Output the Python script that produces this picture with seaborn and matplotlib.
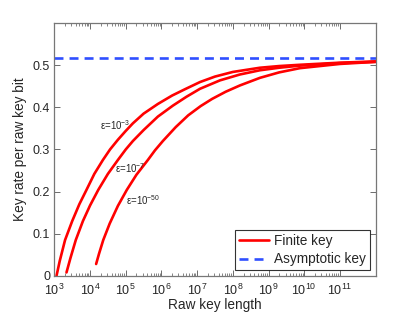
import numpy as np
import pandas as pd
import matplotlib
matplotlib.use("Agg")
import matplotlib.pyplot as plt
import seaborn as sns
from matplotlib.ticker import NullFormatter

# raw key length (log10) and key rate
log_n_eps3 = [3.06, 3.15, 3.30, 3.50, 3.70, 3.90, 4.12, 4.36, 4.56, 4.78, 5.00, 5.20,
              5.50, 5.90, 6.30, 6.66, 7.08, 7.50, 8.00, 8.76, 9.30, 9.88, 11.0, 12.0]
rate_eps3 = [0.000, 0.035, 0.085, 0.130, 0.170, 0.204, 0.242, 0.275, 0.300, 0.323, 0.344, 0.362,
             0.385, 0.408, 0.428, 0.443, 0.460, 0.473, 0.484, 0.494, 0.498, 0.501, 0.506, 0.509]

log_n_eps7 = [3.34, 3.45, 3.60, 3.80, 4.00, 4.23, 4.50, 4.78, 5.00, 5.20, 5.50,
              5.90, 6.32, 6.70, 7.08, 7.64, 8.20, 8.76, 9.30, 9.88, 11.0, 12.0]
rate_eps7 = [0.008, 0.042, 0.085, 0.130, 0.167, 0.204, 0.242, 0.275, 0.300, 0.320, 0.346,
             0.378, 0.404, 0.425, 0.444, 0.464, 0.478, 0.488, 0.494, 0.499, 0.505, 0.508]

log_n_eps50 = [4.17, 4.25, 4.37, 4.55, 4.78, 5.03, 5.30, 5.62, 5.82, 6.04, 6.40,
               6.75, 7.10, 7.42, 7.80, 8.20, 8.76, 9.30, 9.88, 11.0, 12.0]
rate_eps50 = [0.028, 0.052, 0.085, 0.124, 0.166, 0.204, 0.240, 0.275, 0.298, 0.320, 0.353,
              0.381, 0.403, 0.420, 0.437, 0.452, 0.470, 0.483, 0.493, 0.503, 0.508]

asymptotic_rate = 0.516
x_range = [1e3, 1e12]
eps_labels = [r"ε=10$^{-3}$", r"ε=10$^{-7}$", r"ε=10$^{-50}$"]
eps_label_pos = [(10 ** 4.28, 0.357), (10 ** 4.70, 0.256), (10 ** 5.00, 0.180)]

sns.set_style("ticks")
plt.rcParams['font.family'] = ['Liberation Sans', 'DejaVu Sans']
plt.rcParams['mathtext.fontset'] = 'custom'
plt.rcParams['mathtext.rm'] = 'Liberation Sans'
plt.rcParams['mathtext.it'] = 'Liberation Sans'

fig = plt.figure(figsize=(4.15, 3.12), dpi=100)
ax = fig.add_axes([0.131, 0.116, 0.774, 0.810])

curves = [(log_n_eps3, rate_eps3), (log_n_eps7, rate_eps7), (log_n_eps50, rate_eps50)]
for i, (lx, r) in enumerate(curves):
    df = pd.DataFrame({"n": np.power(10.0, lx), "rate": r})
    sns.lineplot(data=df, x="n", y="rate", ax=ax, color="red", lw=1.9,
                 sort=False, estimator=None, label="Finite key" if i == 0 else None)

df_asym = pd.DataFrame({"n": x_range, "rate": [asymptotic_rate] * 2})
sns.lineplot(data=df_asym, x="n", y="rate", ax=ax, color="#2f4fff", lw=1.9,
             linestyle=(0, (3.4, 2.3)), estimator=None, label="Asymptotic key")

ax.set_xscale("log")
ax.set_xlim(x_range)
ax.set_ylim(0, 0.6)
ax.set_xticks([10.0 ** k for k in range(3, 12)])
ax.set_xticklabels([f"$10^{{{k}}}$" for k in range(3, 12)])
ax.set_xticks([10.0 ** k * s for k in range(3, 11) for s in range(2, 10)], minor=True)
ax.xaxis.set_minor_formatter(NullFormatter())
ax.set_yticks([0, 0.1, 0.2, 0.3, 0.4, 0.5])
ax.set_yticklabels(["0", "0.1", "0.2", "0.3", "0.4", "0.5"])

ax.tick_params(which="both", direction="in", top=True, right=True, color="#555555", labelsize=9)
ax.tick_params(axis="x", pad=5)
ax.tick_params(axis="y", pad=3)
ax.tick_params(which="major", length=4, width=0.6)
ax.tick_params(which="minor", length=2, width=0.5)
for sp in ax.spines.values():
    sp.set_color("#777777")
    sp.set_linewidth(0.9)

ax.set_xlabel("Raw key length", fontsize=9.8, labelpad=0)
ax.set_ylabel("Key rate per raw key bit", fontsize=9.8, labelpad=4)

for txt, (tx, ty) in zip(eps_labels, eps_label_pos):
    ax.text(tx, ty, txt, fontsize=7, va="center", ha="left")

leg = ax.legend(loc="lower right", fontsize=9.8, frameon=True, fancybox=False,
                borderpad=0.3, handlelength=2.2, handletextpad=0.4,
                labelspacing=0.3, borderaxespad=0.4)
leg.get_frame().set_edgecolor("black")
leg.get_frame().set_linewidth(0.8)

plt.savefig("out.png", dpi=100)
plt.close()
